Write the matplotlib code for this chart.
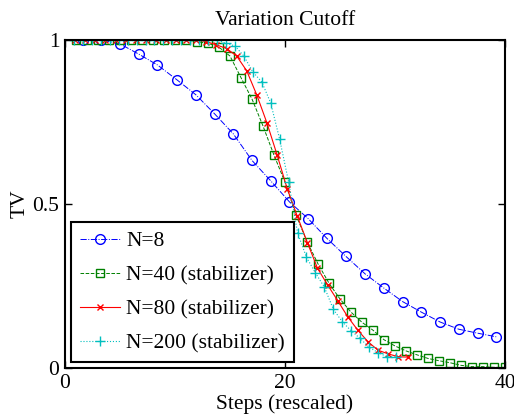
import matplotlib
matplotlib.use("Agg")
from matplotlib import pyplot as plt

plt.rcParams['font.family'] = ['Liberation Serif', 'DejaVu Serif']

# N=8
x_n8 = [1.6, 3.3, 5.0, 6.7, 8.4, 10.2, 11.9, 13.6, 15.3, 17.0, 18.7, 20.4,
        22.1, 23.8, 25.5, 27.3, 29.0, 30.7, 32.4, 34.1, 35.8, 37.5, 39.2]
tv_n8 = [1.0, 1.0, 0.988, 0.957, 0.924, 0.878, 0.833, 0.775, 0.714, 0.633,
         0.571, 0.507, 0.456, 0.396, 0.342, 0.287, 0.244, 0.203, 0.171,
         0.141, 0.119, 0.107, 0.096]

# N=40 (stabilizer)
x_n40 = list(range(1, 41))
tv_n40 = [1.0, 1.0, 1.0, 1.0, 1.0, 1.0, 1.0, 1.0, 1.0, 1.0, 1.0,
          0.995, 0.990, 0.978, 0.951, 0.885, 0.820, 0.738, 0.649, 0.567,
          0.467, 0.386, 0.318, 0.259, 0.211, 0.171, 0.140, 0.116, 0.087,
          0.068, 0.053, 0.041, 0.030, 0.023, 0.017, 0.009, 0.005, 0.005,
          0.003, 0.003]

# N=80 (stabilizer)
x_n80 = [0.92, 1.84, 2.75, 3.67, 4.59, 5.51, 6.43, 7.34, 8.26, 9.18, 10.10,
         11.02, 11.93, 12.85, 13.77, 14.69, 15.61, 16.52, 17.44, 18.36,
         19.28, 20.20, 21.11, 22.03, 22.95, 23.87, 24.79, 25.70, 26.62,
         27.54, 28.46, 29.38, 30.30, 31.21]
tv_n80 = [1.0, 1.0, 1.0, 1.0, 1.0, 1.0, 1.0, 1.0, 1.0, 1.0, 1.0, 1.0, 1.0,
          0.995, 0.985, 0.974, 0.951, 0.906, 0.832, 0.747, 0.650, 0.547,
          0.464, 0.383, 0.305, 0.254, 0.206, 0.157, 0.116, 0.081, 0.055,
          0.044, 0.035, 0.034]

# N=200 (stabilizer)
x_n200 = [0.81, 1.63, 2.44, 3.25, 4.07, 4.88, 5.69, 6.50, 7.32, 8.13, 8.94,
          9.76, 10.57, 11.38, 12.20, 13.01, 13.82, 14.63, 15.45, 16.26,
          17.07, 17.89, 18.70, 19.51, 20.33, 21.14, 21.95, 22.76, 23.58,
          24.39, 25.20, 26.02, 26.83, 27.64, 28.46, 29.27, 30.08]
tv_n200 = [1.0, 1.0, 1.0, 1.0, 1.0, 1.0, 1.0, 1.0, 1.0, 1.0, 1.0, 1.0, 1.0,
           1.0, 1.0, 1.0, 1.0, 0.99, 0.982, 0.951, 0.903, 0.872, 0.808,
           0.698, 0.567, 0.413, 0.338, 0.291, 0.247, 0.180, 0.142, 0.114,
           0.091, 0.064, 0.048, 0.035, 0.034]

fig = plt.figure(figsize=(5.14, 4.2), dpi=100)
ax = fig.add_axes([0.1265, 0.1231, 0.856, 0.7817])

ax.plot(x_n8, tv_n8, color='#0000ff', linestyle='-.', marker='o',
        markersize=7, markerfacecolor='none', linewidth=0.7, label='N=8')
ax.plot(x_n40, tv_n40, color='#008000', linestyle='--', marker='s',
        markersize=6, markerfacecolor='none', linewidth=0.7,
        label='N=40 (stabilizer)')
ax.plot(x_n80, tv_n80, color='#ff0000', linestyle='-', marker='x',
        markersize=5, linewidth=0.8, label='N=80 (stabilizer)')
ax.plot(x_n200, tv_n200, color='#00bfbf', linestyle=':', marker='+',
        markersize=7, linewidth=0.8, label='N=200 (stabilizer)')

ax.set_xlim(0, 40)
ax.set_ylim(0, 1)
ax.set_xticks([0, 20, 40])
ax.set_xticklabels(['0', '20', '40'])
ax.set_yticks([0, 0.5, 1])
ax.set_yticklabels(['0', '0.5', '1'])
ax.tick_params(direction='in', top=True, right=True, length=5, width=1,
               labelsize=15.5, pad=4)
for s in ax.spines.values():
    s.set_linewidth(1.5)

ax.set_title('Variation Cutoff', fontsize=15.5, pad=11)
ax.set_xlabel('Steps (rescaled)', fontsize=15.5, labelpad=1)
ax.set_ylabel('TV', fontsize=15.5, labelpad=2)

leg = ax.legend(loc='lower left', fontsize=15.5, numpoints=1, handlelength=1.85,
                fancybox=False, framealpha=1, edgecolor='black',
                borderaxespad=0.3, labelspacing=0.65, handletextpad=0.3,
                borderpad=0.4)
leg.get_frame().set_linewidth(1.5)

fig.savefig('out.png', dpi=100)
